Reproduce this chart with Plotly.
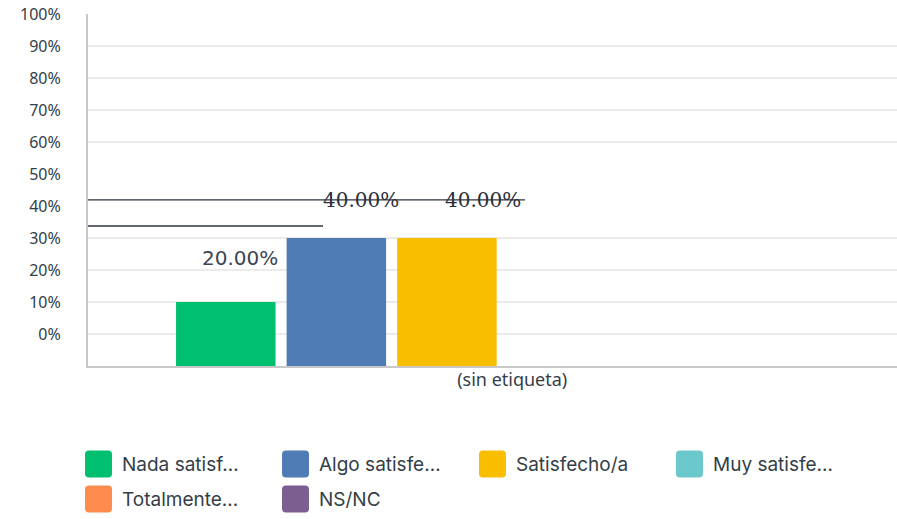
import plotly.graph_objects as go

# ---- data ----
category = ["(sin etiqueta)"]
series_names = ["Nada satisf…", "Algo satisfe…", "Satisfecho/a", "Muy satisfe…", "Totalmente…", "NS/NC"]
series_values = [0.20, 0.40, 0.40, 0.0, 0.0, 0.0]
value_labels = ["20.00%", "40.00%", "40.00%", None, None, None]
tick_vals = [0.1, 0.2, 0.3, 0.4, 0.5, 0.6, 0.7, 0.8, 0.9, 1.0, 1.1]
tick_text = ["0%", "10%", "20%", "30%", "40%", "50%", "60%", "70%", "80%", "90%", "100%"]
grid_vals = [0.1, 0.2, 0.3, 0.4, 0.7, 0.8, 0.9, 1.0, 1.1]

# ---- style ----
colors = ["#00BF6F", "#507CB6", "#F9BE00", "#6BC8CD", "#FF8B4F", "#7D5E90"]
text_color = "#333e48"
label_fonts = ["DejaVu Sans", "DejaVu Serif", "DejaVu Serif"]
label_colors = ["#3d4452", "#2a2f38", "#2a2f38"]
label_xshift = [14, 25, 36]
label_yshift = [44, 38, 38]
bargap = 0.18
n = len(series_names)
slot = (1 - bargap) / n

W, H = 897, 519
ML, MR, MT, MB = 88, 0, 14, 153
PW, PH = W - ML - MR, H - MT - MB


def px_x(px):
    return (px - ML) / PW


def px_y(py):
    return (H - MB - py) / PH


fig = go.Figure()
for name, val, col in zip(series_names, series_values, colors):
    fig.add_trace(go.Bar(x=[0], y=[val], name=name, marker=dict(color=col, line=dict(width=0)),
                         showlegend=False, hoverinfo="skip"))

annotations = []
for i, (val, lab) in enumerate(zip(series_values, value_labels)):
    if lab is None:
        continue
    annotations.append(dict(
        x=(i - (n - 1) / 2) * slot, y=val, xref="x", yref="y", text=lab, showarrow=False,
        xanchor="center", yanchor="middle", xshift=label_xshift[i], yshift=label_yshift[i],
        font=dict(family=label_fonts[i], size=20, color=label_colors[i])))

# custom legend (big rounded squares)
leg_cols_x = [85, 282, 479, 676]
leg_rows_y = [464, 499]
shapes = []
for i, (name, col) in enumerate(zip(series_names, colors)):
    cx = leg_cols_x[i % 4]
    cy = leg_rows_y[i // 4]
    x0, x1 = px_x(cx), px_x(cx + 27)
    y0, y1 = px_y(cy + 13.5), px_y(cy - 13.5)
    r = 4 / PW
    ry = 4 / PH
    path = (f"M {x0 + r},{y0} L {x1 - r},{y0} Q {x1},{y0} {x1},{y0 + ry} L {x1},{y1 - ry} "
            f"Q {x1},{y1} {x1 - r},{y1} L {x0 + r},{y1} Q {x0},{y1} {x0},{y1 - ry} "
            f"L {x0},{y0 + ry} Q {x0},{y0} {x0 + r},{y0} Z")
    shapes.append(dict(type="path", xref="paper", yref="paper", path=path,
                       fillcolor=col, line=dict(width=0)))
    annotations.append(dict(x=px_x(cx + 35), y=px_y(cy), xref="paper", yref="paper",
                            text=name, showarrow=False, xanchor="left", yanchor="middle",
                            font=dict(family="Inter", size=19, color=text_color)))

# stray dark lines seen in the reference
shapes.append(dict(type="line", xref="paper", yref="y", x0=0.0, x1=px_x(525), y0=0.519, y1=0.519,
                   line=dict(color="#2d3440", width=1.4)))
shapes.append(dict(type="line", xref="paper", yref="y", x0=0.0, x1=px_x(323), y0=0.4375, y1=0.4375,
                   line=dict(color="#2d3440", width=1.4)))

# invisible helper trace on overlay axis carrying the gridlines
fig.add_trace(go.Scatter(x=[0], y=[0], yaxis="y2", mode="markers", marker=dict(opacity=0),
                         showlegend=False, hoverinfo="skip"))

fig.update_layout(
    width=W, height=H,
    margin=dict(l=ML, r=MR, t=MT, b=MB, autoexpand=False),
    barmode="group", bargap=bargap, bargroupgap=0.1,
    plot_bgcolor="white", paper_bgcolor="white",
    annotations=annotations, shapes=shapes,
    showlegend=False,
    xaxis=dict(tickmode="array", tickvals=[0], ticktext=category, range=[-0.512, 0.488],
               showline=True, linecolor="#c8c8c8", linewidth=2, showgrid=False, automargin=False,
               tickfont=dict(family="Noto Sans", size=18, color=text_color), ticklen=0,
               ticklabelshift=10, ticklabelstandoff=-4),
    yaxis=dict(range=[0, 1.1], tickmode="array", tickvals=tick_vals, ticktext=tick_text,
               showgrid=False, zeroline=False, automargin=False,
               showline=True, linecolor="#c8c8c8", linewidth=2,
               tickfont=dict(family="Noto Sans", size=16, color=text_color),
               ticklabelstandoff=22),
    yaxis2=dict(overlaying="y", matches="y", range=[0, 1.1], tickmode="array", tickvals=grid_vals,
                showticklabels=False, showgrid=True, gridcolor="#ebebeb", gridwidth=2,
                zeroline=False, showline=False, automargin=False, side="left"),
)

fig.write_html("out.html", config={"displayModeBar": False},
               post_script="document.body.style.margin='0';document.body.style.overflow='hidden';")
